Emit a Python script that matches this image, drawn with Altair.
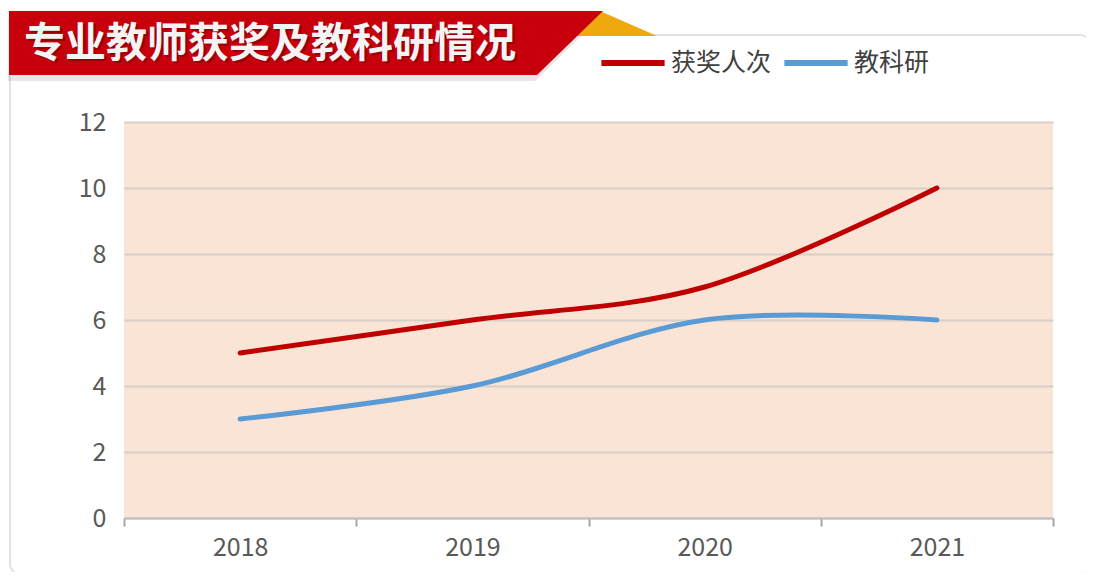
import altair as alt
import pandas as pd

title_text = "专业教师获奖及教科研情况"
years = ["2018", "2019", "2020", "2021"]
series_names = ["获奖人次", "教科研"]
awards = [5, 6, 7, 10]
research = [3, 4, 6, 6]
colors = ["#C00000", "#5B9BD5"]

rows = []
for i, y in enumerate(years):
    rows.append({"year": y, "series": series_names[0], "value": awards[i]})
    rows.append({"year": y, "series": series_names[1], "value": research[i]})
df = pd.DataFrame(rows)
one = pd.DataFrame({"t": [title_text]})

W, H = 929, 396
FONT = "Noto Sans CJK SC"

card = alt.Chart(one).mark_rect(
    fill="white", fillOpacity=0, stroke="#E2E2E2", strokeWidth=2, cornerRadius=10
).encode(x=alt.value(-114), x2=alt.value(966), y=alt.value(-87), y2=alt.value(452))

banner_path = "M-0.99,-0.1067L0.99,-0.1067L0.77,0.1067L-0.99,0.1067Z"
banner_shadow = alt.Chart(one).mark_point(
    shape=banner_path, filled=True, fill="#9A9A9A", opacity=0.25, strokeWidth=0, size=360000
).encode(x=alt.value(180), y=alt.value(-73))
gold = alt.Chart(one).mark_point(
    shape="M-0.32,-0.25L0.82,0.25L-0.82,0.25Z", filled=True, fill="#EFA90F",
    opacity=1, strokeWidth=0, size=10000
).encode(x=alt.value(492), y=alt.value(-98.5))
banner = alt.Chart(one).mark_point(
    shape=banner_path, filled=True, fill="#C8000B", opacity=1, strokeWidth=0, size=360000
).encode(x=alt.value(182), y=alt.value(-79))

title_shadow = alt.Chart(one).mark_text(
    align="left", baseline="middle", font=FONT, fontSize=41, fontWeight="bold",
    color="#5A0000", opacity=0.45
).encode(x=alt.value(-98), y=alt.value(-75), text="t:N")
title = alt.Chart(one).mark_text(
    align="left", baseline="middle", font=FONT, fontSize=41, fontWeight="bold",
    color="#F4F4F4"
).encode(x=alt.value(-100), y=alt.value(-77), text="t:N")

lines = alt.Chart(df).mark_line(
    interpolate="cardinal", strokeWidth=5, strokeCap="round", strokeJoin="round"
).encode(
    x=alt.X("year:N", sort=years, title=None,
            axis=alt.Axis(labelAngle=0, labelFontSize=25, labelColor="#595959",
                          labelFont=FONT, tickBand="extent", tickSize=8,
                          tickColor="#A6A6A6", tickWidth=2, domainColor="#BFBFBF",
                          domainWidth=2, labelPadding=9, grid=False)),
    y=alt.Y("value:Q", title=None,
            scale=alt.Scale(domain=[0, 12], nice=False),
            axis=alt.Axis(values=[0, 2, 4, 6, 8, 10, 12], labelFontSize=25,
                          labelColor="#595959", labelFont=FONT, domain=False,
                          ticks=False, labelPadding=18, gridColor="#D6CEC8",
                          gridWidth=2)),
    color=alt.Color("series:N",
                    scale=alt.Scale(domain=series_names, range=colors),
                    legend=alt.Legend(orient="none", legendX=474, legendY=-94,
                                      direction="horizontal", title=None,
                                      symbolType="stroke", symbolSize=4000,
                                      symbolStrokeWidth=6, labelFontSize=25,
                                      labelFont=FONT, labelColor="#404040",
                                      labelOffset=3, columnPadding=0)),
    detail="series:N",
)

chart = alt.layer(card, banner_shadow, gold, banner, title_shadow, title, lines).properties(
    width=W, height=H,
    background="white",
    autosize=alt.AutoSizeParams(type="none"),
    padding={"left": 116, "top": 114, "right": 33, "bottom": 54},
).configure_view(fill="#FAE4D6", stroke=None)

chart.save("out.html", embed_options={"renderer": "svg", "actions": False})
